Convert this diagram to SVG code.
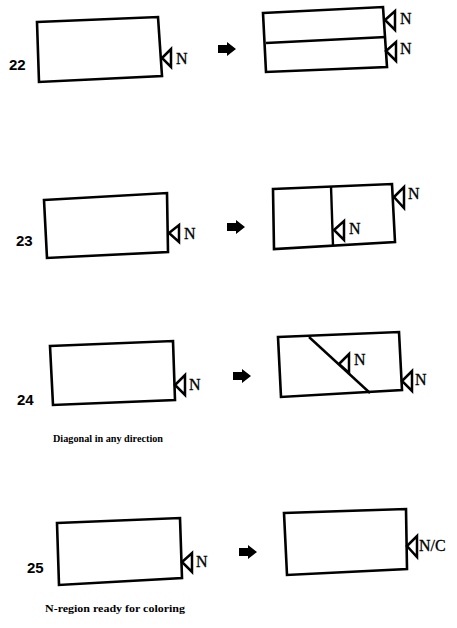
<svg xmlns="http://www.w3.org/2000/svg" width="457" height="628" viewBox="0 0 457 628">
<style>
.box{fill:none;stroke:#000;stroke-width:2.6;stroke-linejoin:miter}
.ln{fill:none;stroke:#000;stroke-width:2.4}
.tri{fill:#fff;stroke:#000;stroke-width:2.5;stroke-linejoin:miter}
.n{font-family:"Liberation Serif","Times New Roman",serif;font-size:16px;fill:#000;stroke:#000;stroke-width:0.3}
.num{font-family:"Liberation Sans",Arial,sans-serif;font-size:15px;font-weight:bold;fill:#000}
.cap{font-family:"Liberation Serif","Times New Roman",serif;font-size:11px;font-weight:bold;fill:#000}
</style>
<defs>
<path id="arr" d="M-9,-4 H0 V-7 L9,0 L0,7 V4 H-9 Z" fill="#000"/>
</defs>
<rect width="457" height="628" fill="#fff"/>

<g id="connectors">
<use href="#arr" x="227" y="49"/>
<use href="#arr" x="236" y="227"/>
<use href="#arr" x="242" y="376"/>
<use href="#arr" x="248" y="552"/>
</g>

<g id="n22a">
<text class="num" x="9" y="70">22</text>
<polygon class="box" points="37,22 158,17 162,76 39,82"/>
<polygon class="tri" points="162,58 171,49 171,67"/>
<text class="n" x="176" y="64">N</text>
</g>
<g id="n22b">
<polygon class="box" points="263,13 383,7 387,67 266,72"/>
<line class="ln" x1="266" y1="43" x2="386" y2="37"/>
<polygon class="tri" points="385,20 395,11 395,30"/>
<text class="n" x="400" y="24">N</text>
<polygon class="tri" points="386,51 396,42 396,61"/>
<text class="n" x="400" y="54">N</text>
</g>

<g id="n23a">
<text class="num" x="16" y="246">23</text>
<polygon class="box" points="44,200 167,193 168,252 47,258"/>
<polygon class="tri" points="169,233 179,225 179,242"/>
<text class="n" x="184" y="239">N</text>
</g>
<g id="n23b">
<polygon class="box" points="273,189 392,184 395,242 274,249"/>
<line class="ln" x1="331" y1="186" x2="333" y2="246"/>
<polygon class="tri" points="334,230 344,221 344,240"/>
<text class="n" x="349" y="234">N</text>
<polygon class="tri" points="394,197 404,187 404,208"/>
<text class="n" x="408" y="199">N</text>
</g>

<g id="n24a">
<text class="num" x="17" y="405">24</text>
<polygon class="box" points="50,346 173,341 175,400 53,405"/>
<polygon class="tri" points="175,385 185,375 185,395"/>
<text class="n" x="189" y="390">N</text>
<text class="cap" x="53" y="442" textLength="110" lengthAdjust="spacingAndGlyphs">Diagonal in any direction</text>
</g>
<g id="n24b">
<polygon class="box" points="278,337 399,332 402,390 281,397"/>
<line class="ln" x1="309" y1="337" x2="370" y2="393"/>
<polygon class="tri" points="339,364 349,354 349,373"/>
<text class="n" x="354" y="365">N</text>
<polygon class="tri" points="402,381 412,371 412,391"/>
<text class="n" x="415" y="385">N</text>
</g>

<g id="n25a">
<text class="num" x="27" y="573">25</text>
<polygon class="box" points="57,523 180,518 182,578 59,585"/>
<polygon class="tri" points="182,562 192,553 192,572"/>
<text class="n" x="196" y="567">N</text>
<text class="cap" x="45" y="612" textLength="140" lengthAdjust="spacingAndGlyphs">N-region ready for coloring</text>
</g>
<g id="n25b">
<polygon class="box" points="284,513 406,509 407,569 287,575"/>
<polygon class="tri" points="407,546 417,536 417,557"/>
<text class="n" x="419" y="551">N/C</text>
</g>
</svg>
